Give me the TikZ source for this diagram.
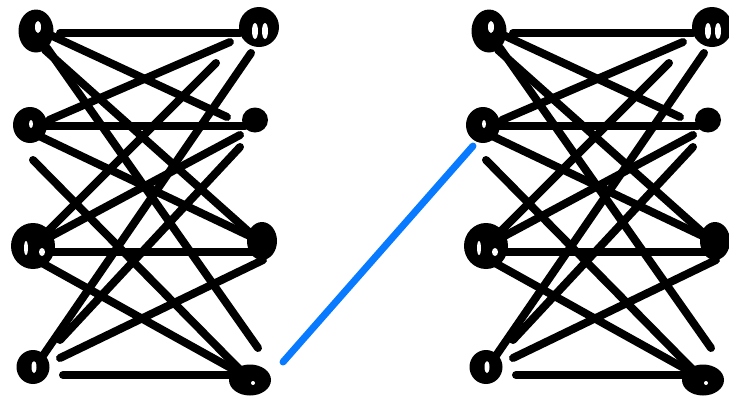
\documentclass[tikz,border=0pt]{standalone}
\usetikzlibrary{shapes.geometric,backgrounds}
\definecolor{linkblue}{RGB}{8,122,255}
\tikzset{
  blob/.style={ellipse, fill=black, draw=none, inner sep=0pt},
  edge/.style={line width=8pt, line cap=round},
  link/.style={line width=7pt, line cap=round, draw=linkblue},
  hole/.style={fill=white}
}
\begin{document}
\begin{tikzpicture}[x=1pt,y=-1pt]
\useasboundingbox (0,0) rectangle (729,400);
\foreach \g/\dx in {a/0,b/453}{
  \node[blob,minimum width=35pt,minimum height=43pt] (\g L1) at (36+\dx,31) {};
  \node[blob,minimum width=40pt,minimum height=40pt] (\g R1) at (259+\dx,27) {};
  \node[blob,minimum width=34pt,minimum height=36pt] (\g L2) at (30+\dx,125) {};
  \node[blob,minimum width=26pt,minimum height=25pt] (\g R2) at (255+\dx,120) {};
  \node[blob,minimum width=44pt,minimum height=46pt] (\g L3) at (33+\dx,246) {};
  \node[blob,minimum width=30pt,minimum height=38pt] (\g R3) at (262+\dx,241) {};
  \node[blob,minimum width=33pt,minimum height=34pt] (\g L4) at (33+\dx,367) {};
  \node[blob,minimum width=42pt,minimum height=31pt] (\g R4) at (250+\dx,380) {};
  % small white gaps of the hand-drawn circles
  \fill[hole] ([shift={(2,-4)}]\g L1.center) ellipse (3 and 6);
  \fill[hole] ([shift={(-4,4)}]\g R1.center) ellipse (3 and 8);
  \fill[hole] ([shift={(6,4)}]\g R1.center) ellipse (3 and 8);
  \fill[hole] ([shift={(1,-1)}]\g L2.center) ellipse (2 and 4);
  \fill[hole] ([shift={(-7,2)}]\g L3.center) ellipse (2 and 7);
  \fill[hole] ([shift={(9,6)}]\g L3.center) ellipse (3 and 4);
  \fill[hole] ([shift={(1,0)}]\g L4.center) ellipse (2.5 and 6);
  \fill[hole] ([shift={(3,3)}]\g R4.center) ellipse (2 and 2);
  \begin{pgfonlayer}{background}
    \foreach \p/\po/\q/\qo in {
      L1/{24,2}/R1/{-19,6},
      L1/{12,3}/R2/{-28,-3},
      L1/{9,19}/R3/{-4,-1},
      L1/{11,17}/R4/{8,-32},
      R1/{-29,15}/L2/{19,-5},
      R1/{-43,36}/L3/{12,-12},
      R1/{-8,26}/L4/{7,-7},
      L2/{15,1}/R2/{-10,6},
      R2/{-15,15}/L3/{11,-6},
      R2/{-15,27}/L4/{27,-27},
      L2/{7,10}/R3/{-4,-1},
      L2/{3,35}/R4/{-3,-3},
      L3/{10,6}/R3/{-2,11},
      L3/{9,17}/R4/{-3,-3},
      R3/{1,19}/L4/{27,-9},
      L4/{30,8}/R4/{-10,-5}}
      \draw[edge] ([shift={(\po)}]\g\p.center) -- ([shift={(\qo)}]\g\q.center);
  \end{pgfonlayer}
}
\draw[link] ([shift={(33,-18)}]aR4.center) -- ([shift={(-10,21)}]bL2.center);
\end{tikzpicture}
\end{document}
